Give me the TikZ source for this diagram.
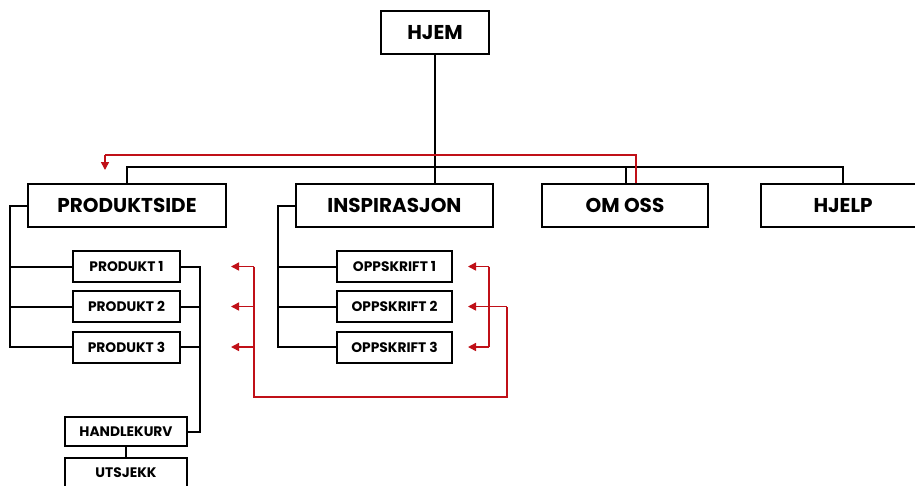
\documentclass[tikz,border=0pt]{standalone}
\usepackage{fontspec}
\setmainfont{Poppins}
\usetikzlibrary{arrows.meta}
\definecolor{linkred}{RGB}{192,16,24}
\begin{document}
\begin{tikzpicture}[x=1pt,y=-1pt,
  box/.style={draw, line width=2pt, inner sep=0pt, font=\bfseries},
  big/.style={box, minimum height=43pt, font=\bfseries\fontsize{20}{24}\selectfont},
  small/.style={box, minimum height=31pt, font=\bfseries\fontsize{13.8}{16}\selectfont},
  conn/.style={line width=2pt},
  redl/.style={draw=linkred, line width=1.5pt},
  redarr/.style={redl, -{Triangle[length=8pt,width=8pt]}}
]
\useasboundingbox (0,0) rectangle (915,485);
\clip (0,0) rectangle (915,485);
\fill[white] (0,0) rectangle (915,485);

\node[big, minimum width=108pt] (hjem) at (435,32.5) {HJEM};
\node[big, minimum width=198pt] (prod) at (127,205.5) {PRODUKTSIDE};
\node[big, minimum width=197pt] (insp) at (394.5,205.5) {INSPIRASJON};
\node[big, minimum width=166pt] (om) at (625,205.5) {OM OSS};
\node[big, minimum width=164pt] (hjelp) at (843,205.5) {HJELP};

\node[small, minimum width=107pt] (p1) at (126.5,266.5) {PRODUKT 1};
\node[small, minimum width=107pt] (p2) at (126.5,306.5) {PRODUKT 2};
\node[small, minimum width=107pt] (p3) at (126.5,347) {PRODUKT 3};
\node[small, minimum width=115pt] (o1) at (394.5,266.5) {OPPSKRIFT 1};
\node[small, minimum width=115pt] (o2) at (394.5,306.5) {OPPSKRIFT 2};
\node[small, minimum width=115pt] (o3) at (394.5,347) {OPPSKRIFT 3};
\node[small, minimum width=122pt, minimum height=29pt] (kurv) at (126,431.5) {HANDLEKURV};
\node[small, minimum width=122pt, minimum height=30pt] (utsj) at (126,473) {UTSJEKK};

% main tree
\coordinate (bar) at (435,167);
\draw[conn] (hjem.south) -- (hjem.south |- insp.north);
\draw[conn] (prod.north) |- (bar) -| (hjelp.north);
\draw[conn] ([xshift=1pt]om.north) -- ([xshift=1pt]om.north |- bar);

% produktside bracket
\coordinate (pl) at (10,205.5);
\draw[conn] (prod.west) -- (pl) |- (p3.west);
\draw[conn] (pl |- p1.west) -- (p1.west);
\draw[conn] (pl |- p2.west) -- (p2.west);
\coordinate (pr) at (200,266.5);
\draw[conn] (p1.east) -- (pr) |- (kurv.east);
\draw[conn] (p2.east) -- (pr |- p2.east);
\draw[conn] (p3.east) -- (pr |- p3.east);
\draw[conn] (kurv.south) -- (utsj.north);

% inspirasjon bracket
\coordinate (il) at (278,205.5);
\draw[conn] (insp.west) -- (il) |- (o3.west);
\draw[conn] (il |- o1.west) -- (o1.west);
\draw[conn] (il |- o2.west) -- (o2.west);

% red links
\coordinate (omtop) at (105,155);
\coordinate (prodtip) at (105,170);
\draw[redl] ([xshift=11pt]om.north) |- (omtop);
\draw[redarr] (omtop) -- (prodtip);

\coordinate (ra) at (254,266.5);
\coordinate (rbot) at (254,397);
\coordinate (rr) at (507,397);
\draw[redl] (ra) -- (rbot) -- (rr) -- (rr |- o2.east);
\draw[redarr] (rr |- o2.east) -- ([xshift=15pt]o2.east);
\draw[redarr] (ra) -- ([xshift=50pt]p1.east);
\draw[redarr] (ra |- p2.east) -- ([xshift=50pt]p2.east);
\draw[redarr] (ra |- p3.east) -- ([xshift=50pt]p3.east);

\coordinate (ob) at (489,266.5);
\draw[redl] (ob) -- (ob |- o3.east);
\draw[redarr] (ob) -- ([xshift=15pt]o1.east);
\draw[redarr] (ob |- o3.east) -- ([xshift=15pt]o3.east);
\end{tikzpicture}
\end{document}
